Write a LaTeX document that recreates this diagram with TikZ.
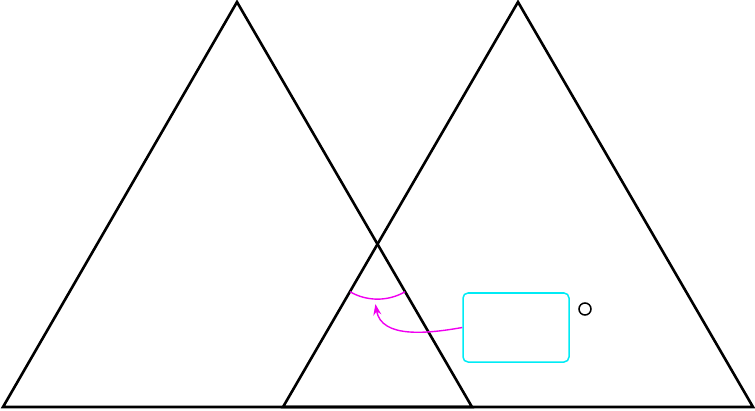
\documentclass[tikz,border=0pt]{standalone}
\usepackage{tikz}
\usetikzlibrary{arrows.meta, intersections, calc}
\definecolor{markpink}{RGB}{240,0,240}
\definecolor{boxcyan}{RGB}{0,235,245}
\tikzset{
  side/.style={draw=black, line width=2.6pt, line join=miter},
  anglemark/.style={draw=markpink, line width=1.4pt},
  pointer/.style={draw=markpink, line width=1.4pt, -{Stealth[length=11pt, width=8pt]}},
  labelbox/.style={draw=boxcyan, line width=1.5pt, rounded corners=5pt,
    minimum width=106pt, minimum height=69pt, inner sep=0pt},
  dot/.style={draw=black, circle, line width=1.5pt, minimum size=12pt, inner sep=0pt}
}
\begin{document}
\begin{tikzpicture}[x=1pt, y=1pt]
    \useasboundingbox (0,0) rectangle (755,410);
    % the two triangles
    \draw [side, name path=lefttri] (3,3) -- (237,408) -- (472,3) -- cycle;
    \draw [side, name path=righttri] (283,3) -- (518,408) -- (753,3) -- cycle;
    \path [name intersections={of=lefttri and righttri, by={cross, crossb}}];
    % angle mark below the crossing
    \draw [anglemark] ($(cross)+(240:55)$) arc (240:300:55);
    \coordinate (tip) at ($(cross)+(268:60)$);
    % box and small circle
    \node (box) [labelbox] at (516,82.5) {};
    \node (ring) [dot] at (585,101) {};
    \draw [pointer] (box.west) to [out=190, in=-80] (tip);
\end{tikzpicture}
\end{document}
